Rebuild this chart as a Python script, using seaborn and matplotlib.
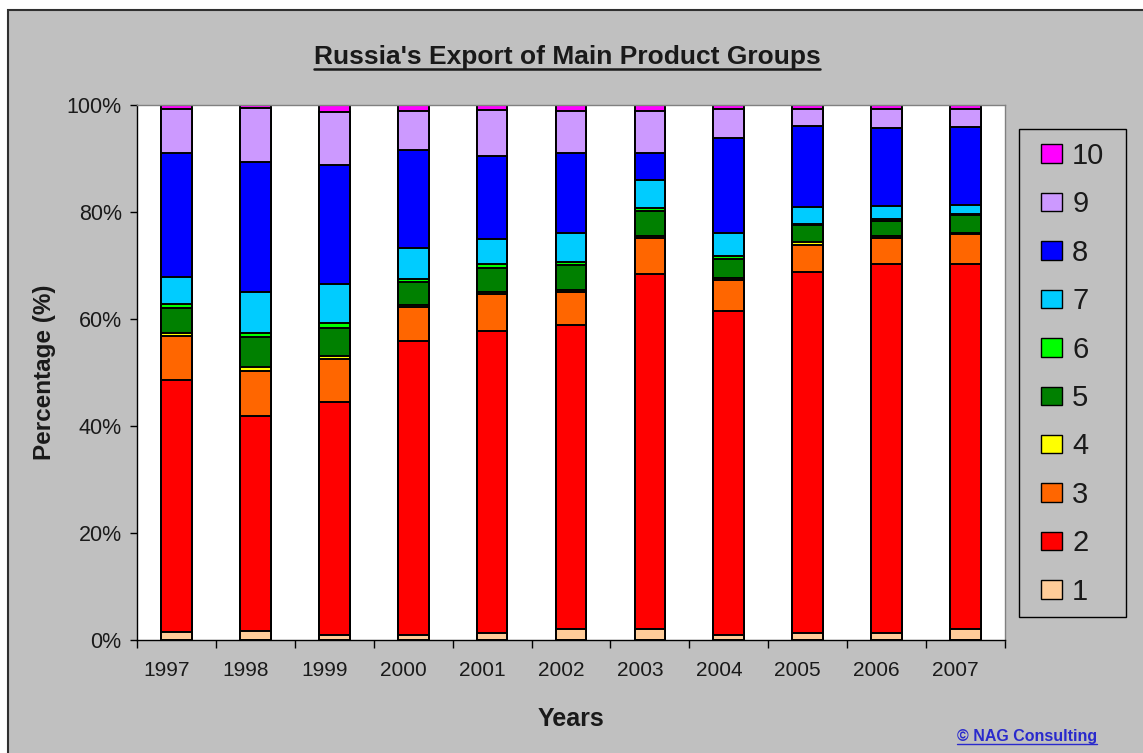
import numpy as np
import pandas as pd
import matplotlib
matplotlib.use("Agg")
import matplotlib.pyplot as plt
import matplotlib.transforms as mtransforms
import seaborn as sns
from matplotlib.patches import Patch, Rectangle
from matplotlib.lines import Line2D
from matplotlib.ticker import FixedLocator, FixedFormatter, NullFormatter, PercentFormatter

# Share of each product group in total exports, % per year
years = ["1997", "1998", "1999", "2000", "2001", "2002", "2003", "2004", "2005", "2006", "2007"]
group_1 = [1.5, 1.6, 1.0, 1.0, 1.3, 2.0, 2.0, 1.0, 1.4, 1.4, 2.0]
group_2 = [47.1, 40.3, 43.5, 54.8, 56.4, 56.8, 66.5, 60.5, 67.4, 68.9, 68.3]
group_3 = [8.2, 8.4, 8.1, 6.5, 6.9, 6.2, 6.7, 5.7, 5.1, 4.9, 5.5]
group_4 = [0.5, 0.7, 0.4, 0.3, 0.4, 0.4, 0.4, 0.4, 0.4, 0.4, 0.3]
group_5 = [4.7, 5.6, 5.3, 4.4, 4.6, 4.6, 4.6, 3.7, 3.2, 2.8, 3.3]
group_6 = [0.8, 0.8, 1.0, 0.5, 0.6, 0.6, 0.6, 0.5, 0.3, 0.3, 0.3]
group_7 = [5.0, 7.6, 7.2, 5.7, 4.8, 5.4, 5.2, 4.2, 3.2, 2.5, 1.6]
group_8 = [23.3, 24.4, 22.3, 18.3, 15.4, 15.0, 5.0, 17.8, 15.0, 14.5, 14.5]
group_9 = [8.2, 10.0, 9.8, 7.3, 8.6, 7.8, 7.8, 5.5, 3.3, 3.6, 3.4]
group_10 = [0.7, 0.6, 1.4, 1.2, 1.0, 1.2, 1.2, 0.7, 0.7, 0.7, 0.8]

group_names = ["1", "2", "3", "4", "5", "6", "7", "8", "9", "10"]
group_colors = ["#FFCC99", "#FF0000", "#FF6600", "#FFFF00", "#008000",
                "#00FF00", "#00CCFF", "#0000FF", "#CC99FF", "#FF00FF"]

series = [group_1, group_2, group_3, group_4, group_5,
          group_6, group_7, group_8, group_9, group_10]
df = pd.DataFrame({name: vals for name, vals in zip(group_names, series)}, index=years)
cumulative = df.cumsum(axis=1)

sns.set_style("white")
plt.rcParams["font.family"] = ["Liberation Sans", "DejaVu Sans"]

W, H = 1143, 753
fig = plt.figure(figsize=(W / 100, H / 100), dpi=100, facecolor="white")

# grey chart area with dark frame
fig.patches.append(Rectangle((8 / W, -0.02), 1.1, (H - 10) / H + 0.02,
                             transform=fig.transFigure, facecolor="#C0C0C0",
                             edgecolor="#303030", linewidth=1.5, zorder=-10))

ax = fig.add_axes([137 / W, (H - 640) / H, 868 / W, 535 / H])
ax.set_facecolor("white")

# stacked bars: draw the tallest cumulative total first, then the lower ones on top
for name, color in zip(reversed(group_names), reversed(group_colors)):
    sns.barplot(x=years, y=cumulative[name].values, color=color, saturation=1,
                width=0.39, edgecolor="black", linewidth=1.4, errorbar=None, ax=ax)

ax.set_xlim(-0.5, len(years) - 0.5)
ax.set_ylim(0, 100)

ax.yaxis.set_major_locator(FixedLocator([0, 20, 40, 60, 80, 100]))
ax.yaxis.set_major_formatter(PercentFormatter(decimals=0))
ax.xaxis.set_major_locator(FixedLocator(np.arange(-0.5, len(years), 1.0)))
ax.xaxis.set_major_formatter(NullFormatter())
ax.xaxis.set_minor_locator(FixedLocator(np.arange(len(years))))
ax.xaxis.set_minor_formatter(FixedFormatter(years))

ax.tick_params(axis="y", which="major", direction="out", length=5, width=1,
               color="black", labelsize=15.5, pad=6, labelcolor="#1a1a1a", left=True)
ax.tick_params(axis="x", which="major", direction="out", length=6, width=1,
               color="black", bottom=True)
ax.tick_params(axis="x", which="minor", length=0, labelsize=15, pad=15,
               labelcolor="#1a1a1a")

# year labels sit slightly left of the bar centres
shift = mtransforms.ScaledTranslation(-10 / 100, 0, fig.dpi_scale_trans)
for lbl in ax.xaxis.get_minorticklabels():
    lbl.set_transform(lbl.get_transform() + shift)

for side in ["left", "bottom"]:
    ax.spines[side].set_color("black")
    ax.spines[side].set_linewidth(1.0)
for side in ["top", "right"]:
    ax.spines[side].set_color("#808080")
    ax.spines[side].set_linewidth(1.0)

ax.set_xlabel("Years", fontsize=18, fontweight="bold", color="#1a1a1a")
ax.xaxis.set_label_coords(0.5, -0.125)
ax.set_ylabel("Percentage (%)", fontsize=17.5, fontweight="bold", color="#1a1a1a")
ax.yaxis.set_label_coords(-0.093, 0.5)

# legend box and entries (10 at the top, 1 at the bottom)
fig.patches.append(Rectangle((1019 / W, 1 - 617 / H), 107 / W, 488 / H,
                             transform=fig.transFigure, facecolor="none",
                             edgecolor="black", linewidth=1.0, zorder=5))
handles = [Patch(facecolor=c, edgecolor="black", linewidth=1.0)
           for c in reversed(group_colors)]
leg = fig.legend(handles, list(reversed(group_names)), loc="upper left",
                 bbox_to_anchor=(1041 / W, 1 - 142 / H), fontsize=21,
                 frameon=False, handlelength=0.72, handleheight=0.6,
                 handletextpad=0.35, labelspacing=0.7, borderpad=0,
                 borderaxespad=0)
for t in leg.get_texts():
    t.set_color("#1a1a1a")

title = fig.text(567 / W, 1 - 64 / H, "Russia's Export of Main Product Groups",
                 ha="center", va="baseline", fontsize=19, fontweight="bold",
                 color="#1a1a1a")
credit = fig.text(1097 / W, 1 - 741 / H, "\u00a9 NAG Consulting",
                  ha="right", va="baseline", fontsize=11.5, fontweight="bold",
                  color="#2a2acc")

# underline the title and the credit line
fig.canvas.draw()
renderer = fig.canvas.get_renderer()
for txt, gap, lw in [(title, 5, 1.8), (credit, 3, 1.0)]:
    bb = txt.get_window_extent(renderer)
    base_y = txt.get_position()[1] * H
    y = (base_y - gap) / H
    fig.add_artist(Line2D([bb.x0 / W, bb.x1 / W], [y, y], transform=fig.transFigure,
                          color=txt.get_color(), linewidth=lw))

fig.savefig("out.png", dpi=100, facecolor=fig.get_facecolor())
